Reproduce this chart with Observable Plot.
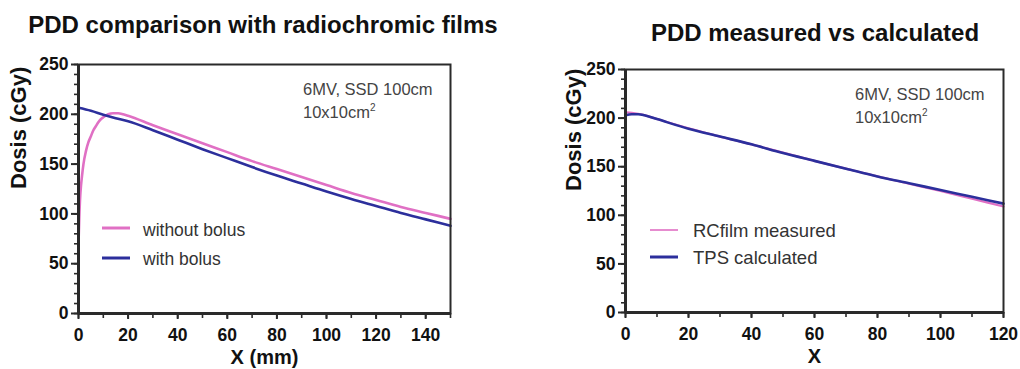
<!DOCTYPE html>
<html><head><meta charset="utf-8">
<script src="https://cdn.jsdelivr.net/npm/d3@7"></script>
<script src="https://cdn.jsdelivr.net/npm/@observablehq/plot@0.6"></script>
<style>
body{margin:0;background:#fff;font-family:"Liberation Sans",Arial,sans-serif;}
#wrap{position:relative;width:1020px;height:369px;overflow:hidden;background:#fff}
.panel{position:absolute;top:0}
#overlay{position:absolute;left:0;top:0;pointer-events:none}
</style></head>
<body><div id="wrap"></div>
<script>
// ---- Data: left panel (PDD comparison with radiochromic films) ----
const withoutBolusX = [0,0.3,0.7,1,1.5,2,3,4,5,6,7,8,9,10,12,14,16,18,20,30,40,50,60,70,80,90,100,110,120,130,140,150];
const withoutBolusY = [70,95,118,128,140,150,163,172,178,184,188,192,195,197,200,201,201,200,198.5,189,180,171,162,153,145,137,129,121,114,107,101,95];
const withBolusX = [0,5,10,15,20,30,40,50,60,70,80,90,100,110,120,130,140,150];
const withBolusY = [206.5,203.5,199.5,196,193,184,174.5,165,156,147,138.5,130.5,122.5,115,108,101,94.5,88];

// ---- Data: right panel (PDD measured vs calculated) ----
const rcfilmX = [0,2,4,6,10,20,30,40,50,60,70,80,90,100,110,120];
const rcfilmY = [206,205.5,204.5,203,199,189.5,181,173,164.5,156,148,140,132.5,125,117,109];
const tpsX = [0,2,4,6,10,20,30,40,50,60,70,80,90,100,110,120];
const tpsY = [203,204,204,203,199,189,181,173,164,156,148,140,133,126,119,112];

// ---- Ticks ----
const yMajorTicks = [0,50,100,150,200,250];
const yMinorTicks = [0,10,20,30,40,50,60,70,80,90,100,110,120,130,140,150,160,170,180,190,200,210,220,230,240,250];
const leftXTicks = [0,20,40,60,80,100,120,140];
const leftXMinor = [0,10,20,30,40,50,60,70,80,90,100,110,120,130,140,150];
const rightXTicks = [0,20,40,60,80,100,120];
const rightXMinor = [0,10,20,30,40,50,60,70,80,90,100,110,120];

const PINK = "#e070c4";
const BLUE = "#2c2f9c";
const AX = "#2a2a2a";
const FONT = "Liberation Sans, Arial, sans-serif";

const rows = (xs, ys) => xs.map((x, i) => ({x, y: ys[i]}));

function panel({width, height, mL, mR, mT, mB, xDomain, xMajor, xMinor, xLabel, xLabelDy, yLabelOffset, series}) {
  return Plot.plot({
    width, height, marginLeft: mL, marginRight: mR, marginTop: mT, marginBottom: mB,
    x: {domain: xDomain},
    y: {domain: [0, 250]},
    style: {fontFamily: FONT, color: AX, background: "transparent", overflow: "visible"},
    marks: [
      Plot.axisY({ticks: yMinorTicks, tickSize: 4, text: null, label: null, stroke: AX, strokeWidth: 1.6}),
      Plot.axisY({ticks: yMajorTicks, tickSize: 7, tickPadding: 3, label: null, fontSize: 17.5, fontWeight: "bold", fill: "#111", stroke: AX, strokeWidth: 2}),
      Plot.axisX({ticks: xMinor, tickSize: 5, text: null, label: null, stroke: AX, strokeWidth: 1.6}),
      Plot.axisX({ticks: xMajor, tickSize: 6, tickPadding: 9, label: null, fontSize: 17.5, fontWeight: "bold", fill: "#111", stroke: AX, strokeWidth: 2}),
      ...series.map(s => Plot.line(rows(s.xs, s.ys), {x: "x", y: "y", stroke: s.color, strokeWidth: s.width, curve: "monotone-x"})),
      Plot.frame({stroke: AX, strokeWidth: 2}),
      Plot.ruleX([xDomain[0]], {stroke: AX, strokeWidth: 3}),
      Plot.ruleY([0], {stroke: AX, strokeWidth: 3}),
      Plot.text([xLabel], {text: d => d, frameAnchor: "bottom", dy: xLabelDy, fontSize: 20, fontWeight: "bold", fill: "#111"}),
      Plot.text(["Dosis (cGy)"], {text: d => d, frameAnchor: "left", dx: -yLabelOffset, rotate: -90, fontSize: 22, fontWeight: "bold", fill: "#111"})
    ]
  });
}

const wrap = document.getElementById("wrap");

const left = panel({
  width: 510, height: 369, mL: 78, mR: 60, mT: 64, mB: 56,
  xDomain: [0, 150], xMajor: leftXTicks, xMinor: leftXMinor, xLabel: "X (mm)", xLabelDy: 50, yLabelOffset: 60,
  series: [
    {xs: withoutBolusX, ys: withoutBolusY, color: PINK, width: 2.6},
    {xs: withBolusX, ys: withBolusY, color: BLUE, width: 2.6}
  ]
});
left.classList.add("panel");
left.style.left = "0px";
wrap.appendChild(left);

const right = panel({
  width: 510, height: 369, mL: 115, mR: 17, mT: 69, mB: 57,
  xDomain: [0, 120], xMajor: rightXTicks, xMinor: rightXMinor, xLabel: "X", xLabelDy: 50, yLabelOffset: 52,
  series: [
    {xs: rcfilmX, ys: rcfilmY, color: PINK, width: 2.2},
    {xs: tpsX, ys: tpsY, color: BLUE, width: 2.6}
  ]
});
right.classList.add("panel");
right.style.left = "510px";
wrap.appendChild(right);

// ---- Titles, notes and legends (overlay) ----
const titles = [
  {text: "PDD comparison with radiochromic films", cx: 263, base: 33},
  {text: "PDD measured vs calculated", cx: 815, base: 41}
];
const notes = [
  {x: 303, base1: 95, base2: 118},
  {x: 855, base1: 100, base2: 123}
];
const legends = [
  {x0: 102, x1: 130, tx: 143, size: 17.5, items: [
    {label: "without bolus", color: PINK, w: 3, ly: 228, base: 236},
    {label: "with bolus", color: BLUE, w: 3, ly: 258, base: 265}]},
  {x0: 650, x1: 678, tx: 693, size: 18.5, items: [
    {label: "RCfilm measured", color: PINK, w: 1.6, ly: 230, base: 236.5},
    {label: "TPS calculated", color: BLUE, w: 3, ly: 257, base: 263.5}]}
];

const ns = "http://www.w3.org/2000/svg";
const ov = document.createElementNS(ns, "svg");
ov.setAttribute("id", "overlay");
ov.setAttribute("width", 1020);
ov.setAttribute("height", 369);
ov.setAttribute("font-family", FONT);
function t(str, x, y, attrs) {
  const e = document.createElementNS(ns, "text");
  e.setAttribute("x", x); e.setAttribute("y", y);
  for (const k in attrs) e.setAttribute(k, attrs[k]);
  e.textContent = str;
  ov.appendChild(e);
  return e;
}
for (const ti of titles) t(ti.text, ti.cx, ti.base, {"text-anchor": "middle", "font-size": 24, "font-weight": "bold", fill: "#111"});
for (const n of notes) {
  t("6MV, SSD 100cm", n.x, n.base1, {"font-size": 16.5, fill: "#444"});
  const e = t("10x10cm", n.x, n.base2, {"font-size": 16.5, fill: "#444"});
  const sup = document.createElementNS(ns, "tspan");
  sup.setAttribute("dy", -7); sup.setAttribute("font-size", 10);
  sup.textContent = "2";
  e.appendChild(sup);
}
for (const lg of legends) {
  for (const it of lg.items) {
    const l = document.createElementNS(ns, "line");
    l.setAttribute("x1", lg.x0); l.setAttribute("x2", lg.x1);
    l.setAttribute("y1", it.ly); l.setAttribute("y2", it.ly);
    l.setAttribute("stroke", it.color); l.setAttribute("stroke-width", it.w);
    ov.appendChild(l);
    t(it.label, lg.tx, it.base, {"font-size": lg.size, fill: "#333"});
  }
}
wrap.appendChild(ov);
</script></body></html>
